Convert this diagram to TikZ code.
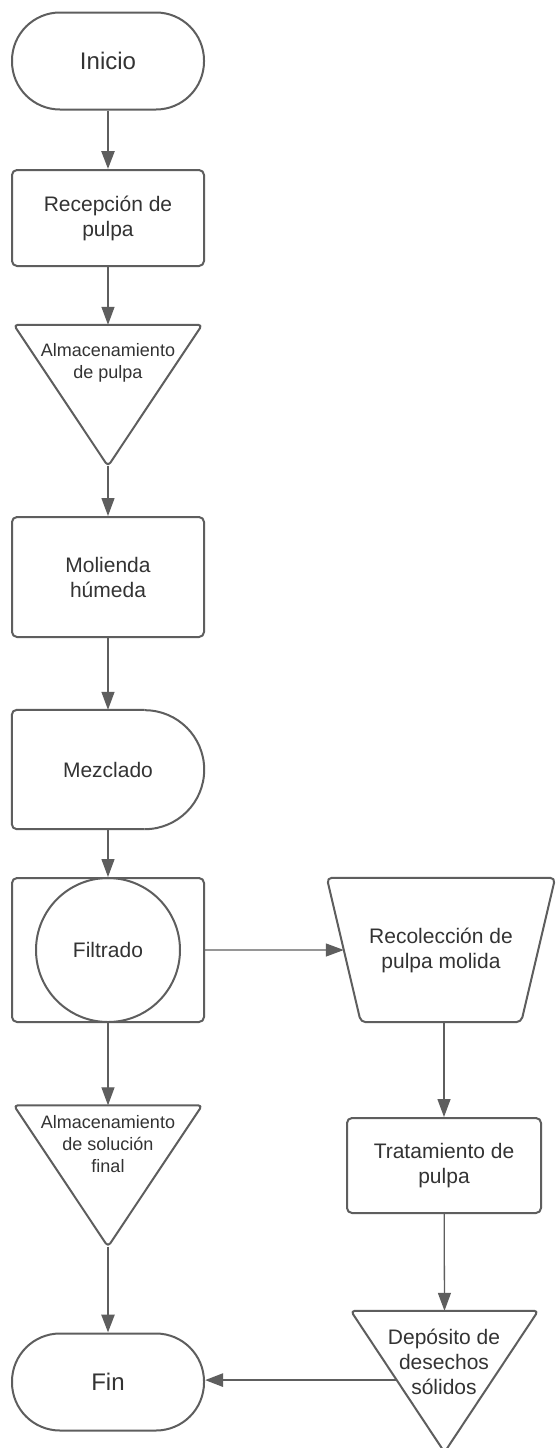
\documentclass[tikz,border=0pt]{standalone}
\usepackage{fontspec}
\setmainfont{Liberation Sans}
\usetikzlibrary{arrows.meta,calc}
\definecolor{linegray}{HTML}{5E5E5E}
\definecolor{textgray}{HTML}{333333}

\begin{document}
\begin{tikzpicture}[x=1pt, y=1pt,
  every node/.style={text=textgray},
  outline/.style={draw=linegray, line width=2pt, line join=round},
  term/.style={outline, rounded corners=48pt, minimum width=192pt,
               minimum height=97pt, font=\fontsize{24}{28}\selectfont},
  proc/.style={outline, rounded corners=5pt, minimum width=192pt,
               minimum height=#1, align=center,
               font=\fontsize{21}{25}\selectfont},
  frame/.style={minimum width=#1, inner sep=0pt, align=center,
                font=\fontsize{21}{25}\selectfont},
  tri/.style={minimum width=188pt, minimum height=141pt, inner sep=0pt},
  tritext/.style={align=center, inner sep=0pt,
                  font=\fontsize{18}{22}\selectfont},
  arr/.style={-{Triangle[length=18pt, width=13pt]}, draw=linegray,
              line width=1.3pt},
  arrbold/.style={arr, line width=2.6pt}
]
  \useasboundingbox (0,0) rectangle (556,-1448);
  \fill[white] (0,0) rectangle (556,-1448);

  % left column
  \node[term] (inicio) at (108,-61) {Inicio};
  \node[proc=96pt] (recep) at (108,-218) {Recepción de\\pulpa};
  \node[tri] (alm) at (108,-395.5) {};
  \draw[outline, rounded corners=4pt] (alm.north west) -- (alm.north east)
        -- (alm.south) -- cycle;
  \node[tritext] (almt) at (108,-363) {Almacenamiento\\de pulpa};
  \node[proc=120pt] (mol) at (108,-577) {Molienda\\húmeda};
  \node[frame=192pt, minimum height=119pt] (mez) at (108,-769.5) {Mezclado};
  \draw[outline, rounded corners=5pt] ([xshift=-59.5pt]mez.north east)
        -- (mez.north west) -- (mez.south west)
        -- ([xshift=-59.5pt]mez.south east);
  \draw[outline] ([xshift=-59.5pt]mez.south east)
        arc[start angle=-90, end angle=90, radius=59.5pt];
  \node[proc=144pt] (filbox) at (108,-950) {};
  \node[outline, circle, minimum size=144pt, inner sep=0pt,
        font=\fontsize{21}{25}\selectfont] (fil) at (108,-950) {Filtrado};
  \node[tri] (almfin) at (108,-1176) {};
  \draw[outline, rounded corners=4pt] (almfin.north west)
        -- (almfin.north east) -- (almfin.south) -- cycle;
  \node[tritext] (almfint) at (108,-1144) {Almacenamiento\\de solución\\final};
  \node[term] (fin) at (108,-1382) {Fin};

  % right column
  \node[frame=228pt, minimum height=144pt] (rec) at (441,-950)
        {Recolección de\\pulpa molida};
  \draw[outline, rounded corners=5pt] (rec.north west) -- (rec.north east)
        -- ([xshift=-34pt]rec.south east) -- ([xshift=34pt]rec.south west)
        -- cycle;
  \coordinate (recin) at ($(rec.north west)!0.5!([xshift=34pt]rec.south west)$);
  \node[proc=95pt, minimum width=194pt] (trat) at (444,-1165.5)
        {Tratamiento de\\pulpa};
  \node[tri, minimum width=187pt] (dep) at (444.5,-1381.5) {};
  \draw[outline, rounded corners=4pt] (dep.north west) -- (dep.north east)
        -- (dep.south) -- cycle;
  \node[frame=120pt] (dept) at (444,-1362) {Depósito de\\desechos\\sólidos};
  \coordinate (depout) at ($(dep.north west)!0.49!(dep.south)$);

  % connectors
  \draw[arrbold] (inicio) -- (recep);
  \draw[arr] (recep) -- (alm.north);
  \draw[arr] (alm.south) -- (mol);
  \draw[arr] (mol) -- (mez);
  \draw[arr] (mez) -- (filbox);
  \draw[arr] (filbox.east) -- (recin);
  \draw[arr] (filbox) -- (almfin.north);
  \draw[arrbold] (almfin.south) -- (fin);
  \draw[arr] (trat.north |- rec.south) -- (trat);
  \draw[arr] (trat) -- (dep.north);
  \draw[arrbold] (depout) -- (depout -| fin.east);
\end{tikzpicture}
\end{document}
